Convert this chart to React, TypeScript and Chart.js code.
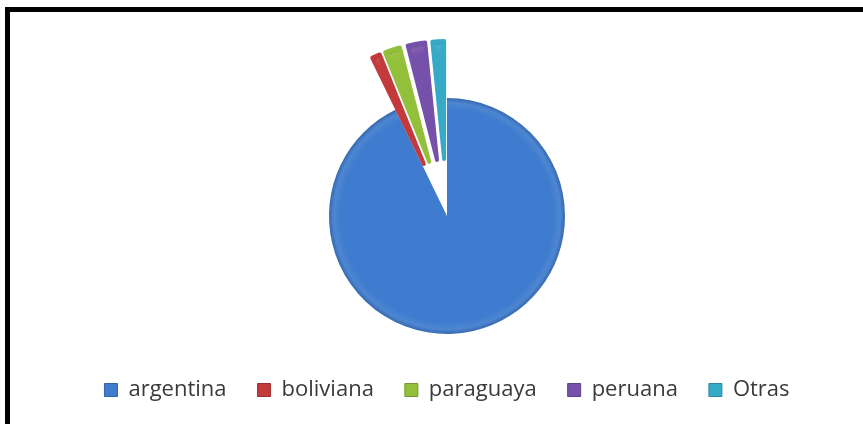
import React, { useEffect, useRef } from "react";
import { Chart, registerables } from "chart.js";

Chart.register(...registerables);

const LABELS = ["argentina", "boliviana", "paraguaya", "peruana", "Otras"];
const VALUES = [92.8, 1.1, 2.1, 2.4, 1.6];
const COLORS = ["#3F7BCE", "#C23A3C", "#93C03A", "#7551AA", "#36AAC6"];
const EXPLODE = [0, 57, 57, 57, 57];
const EDGE = [0, 4, 4, 4, 4];
const RADIUS = 118;

function shade(hex: string, f: number): string {
  const n = parseInt(hex.slice(1), 16);
  let r = (n >> 16) & 255, g = (n >> 8) & 255, b = n & 255;
  if (f >= 0) {
    r = Math.round(r + (255 - r) * f); g = Math.round(g + (255 - g) * f); b = Math.round(b + (255 - b) * f);
  } else {
    r = Math.round(r * (1 + f)); g = Math.round(g * (1 + f)); b = Math.round(b * (1 + f));
  }
  return `rgb(${r},${g},${b})`;
}

const explodePlugin = {
  id: "explode",
  beforeDatasetDraw(chart: any, args: any) {
    const ctx = chart.ctx;
    const meta = args.meta;
    meta.data.forEach((arc: any, i: number) => {
      const mid = (arc.startAngle + arc.endAngle) / 2;
      const e = EXPLODE[i] || 0;
      ctx.save();
      ctx.translate(Math.cos(mid) * e, Math.sin(mid) * e);
      arc.draw(ctx, chart.chartArea);
      ctx.restore();
    });
    return false;
  },
};

export default function App() {
  const ref = useRef<HTMLCanvasElement>(null);
  useEffect(() => {
    if (!ref.current) return;
    const chart = new Chart(ref.current, {
      type: "pie",
      data: {
        labels: LABELS,
        datasets: [
          {
            data: VALUES,
            backgroundColor: (c: any) => {
              const col = COLORS[c.dataIndex] || COLORS[0];
              const area = c.chart.chartArea;
              if (!area) return col;
              const cx = (area.left + area.right) / 2;
              const cy = (area.top + area.bottom) / 2;
              const g = c.chart.ctx.createRadialGradient(cx, cy, 0, cx, cy, RADIUS);
              g.addColorStop(0, col);
              g.addColorStop(0.9, col);
              g.addColorStop(0.96, shade(col, 0.08));
              g.addColorStop(1, shade(col, -0.15));
              return g;
            },
            borderColor: COLORS,
            borderWidth: EDGE,
            borderJoinStyle: "round",
          },
        ],
      },
      options: {
        responsive: false,
        animation: false,
        radius: RADIUS,
        layout: { padding: { left: 31, top: 84, right: 0, bottom: 0 } },
        plugins: {
          tooltip: { enabled: false },
          legend: {
            position: "bottom",
            labels: {
              boxWidth: 13,
              boxHeight: 13,
              padding: 31,
              color: "#3a3a3a",
              font: { family: "'Open Sans', sans-serif", size: 22 },
              generateLabels: () =>
                LABELS.map((t, i) => ({
                  text: t,
                  fillStyle: COLORS[i],
                  strokeStyle: shade(COLORS[i], -0.2),
                  lineWidth: 1,
                  hidden: false,
                  index: i,
                  fontColor: "#3a3a3a",
                })),
            },
          },
        },
      },
      plugins: [explodePlugin],
    });
    return () => chart.destroy();
  }, []);

  return (
    <div
      style={{
        position: "fixed",
        left: 0,
        top: 0,
        width: 863,
        height: 424,
        overflow: "hidden",
        background: "#ffffff",
      }}
    >
      <div
        style={{
          position: "absolute",
          left: 5,
          top: 7,
          width: 900,
          height: 414,
          borderLeft: "5px solid #000",
          borderTop: "5px solid #000",
          borderBottom: "1px solid #dddddd",
        }}
      />
      <canvas
        ref={ref}
        width={863}
        height={411}
        style={{ position: "absolute", left: 0, top: 0, width: 863, height: 411 }}
      />
    </div>
  );
}
